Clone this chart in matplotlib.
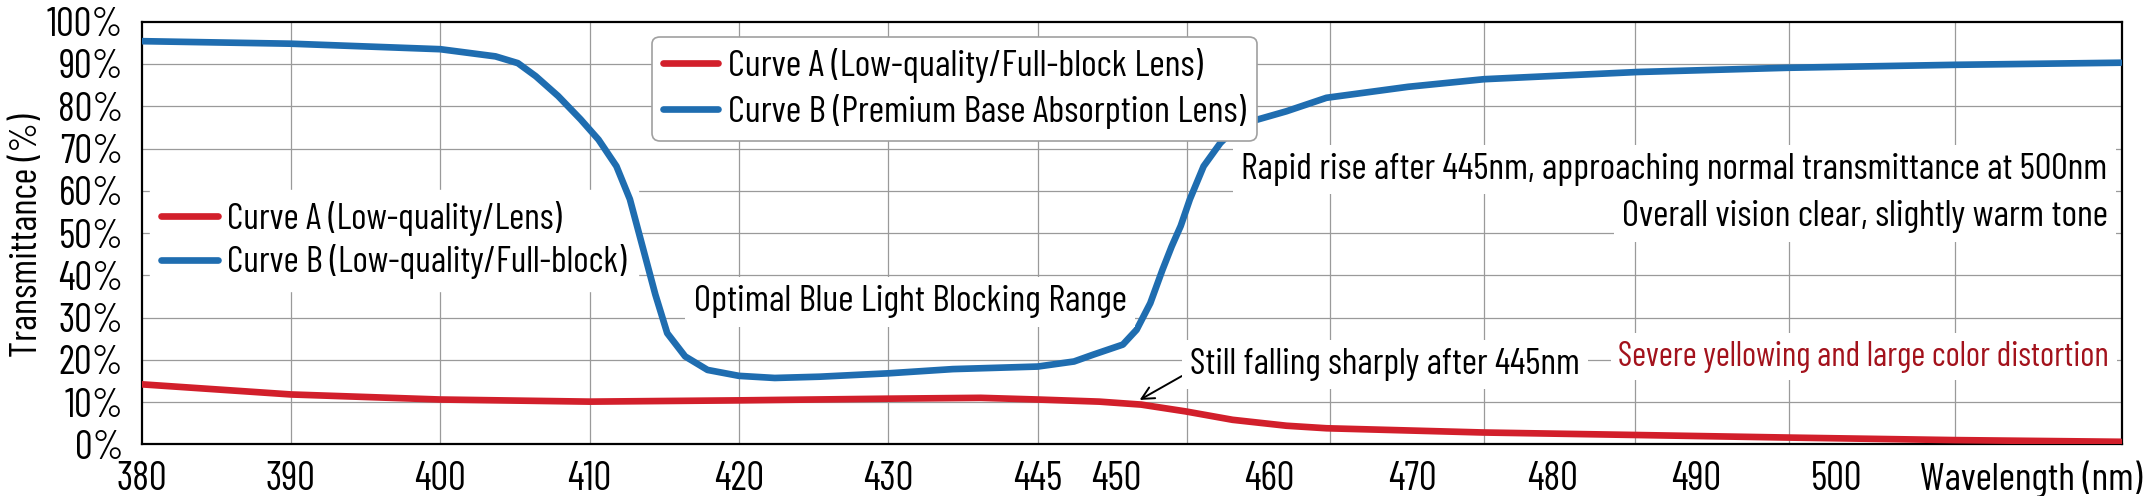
import numpy as np
import matplotlib
matplotlib.use("Agg")
import matplotlib.pyplot as plt
from matplotlib import font_manager
from matplotlib.font_manager import FontProperties
from matplotlib.textpath import TextPath

# x axis is uneven: the tick labels sit on slots, not on a linear nm scale
TICK_WL = [380, 390, 400, 410, 420, 430, 445, 450, 460, 470, 480, 490, 500]
TICK_POS = [0, 1, 2, 3, 4, 5, 6, 6.53, 7.55, 8.51, 9.45, 10.41, 11.35]
GRID_POS = [1, 2, 3, 4, 5, 6, 7, 7.96, 8.99, 10.0, 11.03, 12.14]
X_END = 13.26

Y_TICKS = list(range(0, 101, 10))

# Curve A: low-quality / full-block lens
curve_a_wl = [380, 390, 400, 410, 420, 430, 439.3, 445, 448.9, 451.6, 454.5,
              457.6, 461.2, 464.0, 475.0, 485.9, 496.5, 508.3, 520]
curve_a_t = [14.2, 11.8, 10.6, 10.1, 10.4, 10.8, 11.0, 10.6, 10.1, 9.4, 7.8,
             5.8, 4.4, 3.8, 2.8, 2.2, 1.6, 1.0, 0.6]

# Curve B: premium base absorption lens
curve_b_wl = [380, 390, 400, 403.7, 405.2, 406.4, 407.9, 409.4, 410.6, 411.8,
              412.7, 413.6, 414.4, 415.2, 416.4, 417.9, 420, 422.4, 425.4, 430,
              436.5, 445, 447.3, 448.5, 450.4, 451.3, 452.2, 453.0, 453.6, 454.2,
              454.8, 455.7, 456.8, 457.7, 458.9, 461.2, 464.0, 469.7, 475.1,
              485.9, 496.5, 508.3, 520]
curve_b_t = [95.4, 94.8, 93.5, 91.8, 90.2, 87.1, 82.4, 76.9, 72.1, 65.8,
             58.0, 46.1, 35.5, 26.3, 20.8, 17.6, 16.2, 15.7, 16.0, 16.8,
             17.8, 18.4, 19.6, 21.2, 23.6, 27.1, 33.4, 41.3, 46.8, 51.7,
             58.0, 65.8, 71.3, 74.5, 76.5, 78.8, 82.0, 84.6, 86.4,
             88.1, 89.1, 89.8, 90.3]

LEGEND_TOP = ["Curve A (Low-quality/Full-block Lens)",
              "Curve B (Premium Base Absorption Lens)"]
LEGEND_LEFT = ["Curve A (Low-quality/Lens)",
               "Curve B (Low-quality/Full-block)"]

RED = "#d21f2b"
BLUE = "#1f6db0"
DARK_RED = "#a3121c"
GRID = "#9a9a9a"

# The reference uses a tall condensed grotesque.  Pick the installed narrow
# sans whose width / cap-height ratio is closest to the one measured there.
SAMPLE = "Optimal Blue Light Blocking Range"
TARGET_RATIO = 433 / 28.0
installed = {f.name for f in font_manager.fontManager.ttflist}
candidates = ["Roboto Condensed", "Archivo Narrow", "PT Sans Narrow",
              "Liberation Sans Narrow", "Fira Sans Condensed",
              "Fira Sans Extra Condensed", "Barlow Condensed",
              "Barlow Semi Condensed", "Sofia Sans Condensed",
              "Sofia Sans Extra Condensed", "Encode Sans Condensed",
              "Encode Sans Compressed", "Asap Condensed",
              "IBM Plex Sans Condensed", "Open Sans Condensed"]
FONT, best = "Roboto Condensed", None
for fam in candidates:
    if fam not in installed:
        continue
    try:
        fp = FontProperties(family=fam)
        w = TextPath((0, 0), SAMPLE, size=100, prop=fp).get_extents().width
        h = TextPath((0, 0), "H", size=100, prop=fp).get_extents().height
    except Exception:
        continue
    err = abs(w / h - TARGET_RATIO)
    if best is None or err < best:
        FONT, best = fam, err
plt.rcParams["font.family"] = [FONT, "DejaVu Sans"]

# piecewise mapping nm <-> slot, extended linearly past both ends
wl_anchor = np.array([370] + TICK_WL + [530], dtype=float)
pos_anchor = np.array([-1] + TICK_POS + [TICK_POS[-1] + 3 * 0.95], dtype=float)


def fwd(w):
    return np.interp(w, wl_anchor, pos_anchor)


def inv(p):
    return np.interp(p, pos_anchor, wl_anchor)


fig = plt.figure(figsize=(21.44, 4.96), dpi=100)
renderer = fig.canvas.get_renderer()


def size_for(s, width_px):
    """Font size (pt) that makes string *s* about *width_px* wide."""
    t = fig.text(0, 0, s, fontsize=20)
    w = t.get_window_extent(renderer).width
    t.remove()
    return 20 * width_px / w


ax = fig.add_axes([0.0660, 0.1042, 0.9237, 0.8520])
ax.set_xscale("function", functions=(fwd, inv))
ax.set_xlim(380, float(inv(X_END)))
ax.set_ylim(0, 100)

for p in GRID_POS:
    ax.axvline(float(inv(p)), color=GRID, lw=0.9, zorder=0)
for v in Y_TICKS[1:-1]:
    ax.axhline(v, color=GRID, lw=0.9, zorder=0)

line_a, = ax.plot(curve_a_wl, curve_a_t, color=RED, lw=4.8,
                  solid_capstyle="round", solid_joinstyle="round", zorder=3)
line_b, = ax.plot(curve_b_wl, curve_b_t, color=BLUE, lw=4.8,
                  solid_capstyle="round", solid_joinstyle="round", zorder=3)

tick_fs = size_for("390", 50)
ax.set_xticks(TICK_WL)
ax.set_xticklabels([str(w) for w in TICK_WL])
ax.set_yticks(Y_TICKS)
ax.set_yticklabels([f"{v}%" for v in Y_TICKS])
ax.tick_params(axis="both", length=0, labelsize=tick_fs)
ax.tick_params(axis="x", pad=12)
ax.tick_params(axis="y", pad=13)
for s in ax.spines.values():
    s.set_linewidth(1.6)
    s.set_color("black")

ax.set_ylabel("Transmittance (%)", fontsize=size_for("Transmittance (%)", 244),
              va="center")
ax.yaxis.set_label_coords(-0.0578, 0.495)
ax.annotate("Wavelength (nm)", xy=(1.0101, 0), xycoords="axes fraction",
            xytext=(0, -12), textcoords="offset points",
            ha="right", va="top", fontsize=size_for("Wavelength (nm)", 223),
            annotation_clip=False)

# legends
leg1 = ax.legend([line_a, line_b], LEGEND_TOP,
                 loc="upper left", bbox_to_anchor=(0.2578, 0.9645),
                 fontsize=size_for(LEGEND_TOP[0], 474),
                 handlelength=1.45, handletextpad=0.26,
                 labelspacing=0.3, borderpad=0.3, borderaxespad=0,
                 fancybox=True, framealpha=1, edgecolor="#a0a0a0")
leg1.get_frame().set_linewidth(1.2)
leg1.set_zorder(5)
ax.add_artist(leg1)

# the left legend only blanks the grid; the curves stay visible over it
leg2 = ax.legend([line_a, line_b], LEGEND_LEFT,
                 loc="upper left", bbox_to_anchor=(0.0041, 0.6027),
                 fontsize=size_for(LEGEND_LEFT[0], 335),
                 handlelength=1.55, handletextpad=0.26,
                 labelspacing=0.24, borderpad=0.3, borderaxespad=0,
                 fancybox=False, framealpha=1, edgecolor="white")
leg2.set_zorder(2.5)

box = dict(boxstyle="square,pad=0.22", fc="white", ec="none")

s = SAMPLE
ax.text(432.2, 33.7, s, fontsize=size_for(s, 433),
        ha="center", va="center", bbox=box, zorder=4)

s = "Still falling sharply after 445nm"
ax.annotate(s, xy=(451.5, 10.5), xytext=(454.8, 18.8),
            fontsize=size_for(s, 390), ha="left", va="center",
            bbox=box, zorder=4,
            arrowprops=dict(arrowstyle="->", color="black", lw=1.4,
                            mutation_scale=22, shrinkA=0, shrinkB=0,
                            relpos=(0, 0.3)))

s = "Rapid rise after 445nm, approaching normal transmittance at 500nm"
ax.text(519.1, 65.0, s, fontsize=size_for(s, 867),
        ha="right", va="center", bbox=box, zorder=4)
s = "Overall vision clear, slightly warm tone"
ax.text(519.1, 53.8, s, fontsize=size_for(s, 487),
        ha="right", va="center", bbox=box, zorder=4)
s = "Severe yellowing and large color distortion"
ax.text(519.2, 20.7, s, fontsize=size_for(s, 490),
        ha="right", va="center", color=DARK_RED, bbox=box, zorder=4)

fig.savefig("out.png", dpi=100)
plt.close(fig)
